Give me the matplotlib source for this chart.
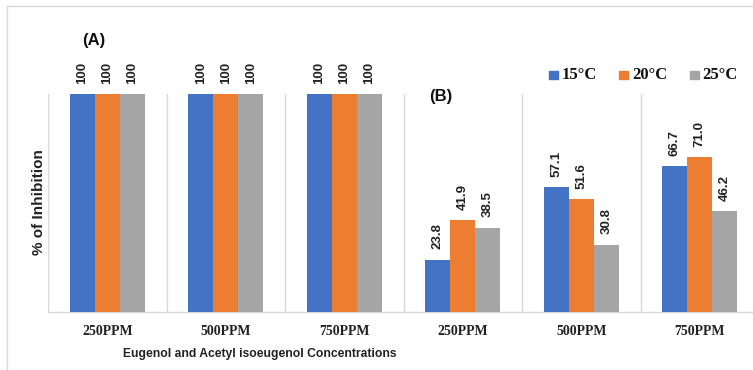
import matplotlib
matplotlib.use("Agg")
import matplotlib.pyplot as plt
from matplotlib.lines import Line2D
from matplotlib import font_manager
import numpy as np

# Concentration groups: first three are eugenol (A), last three acetyl isoeugenol (B)
categories = ["250PPM", "500PPM", "750PPM", "250PPM", "500PPM", "750PPM"]
series_names = ["15°C", "20°C", "25°C"]
inhib_15 = [100, 100, 100, 23.8, 57.1, 66.7]
inhib_20 = [100, 100, 100, 41.9, 51.6, 71.0]
inhib_25 = [100, 100, 100, 38.5, 30.8, 46.2]
label_formats = ["{:.0f}", "{:.0f}", "{:.0f}", "{:.1f}", "{:.1f}", "{:.1f}"]
colors = ["#4472C4", "#ED7D31", "#A5A5A5"]

available = {f.name for f in font_manager.fontManager.ttflist}
sans = "Liberation Sans Narrow" if "Liberation Sans Narrow" in available else "Liberation Sans"

W, H = 753, 370
fig = plt.figure(figsize=(W / 100, H / 100), dpi=100)

def px(x, y):
    return x / W, 1 - y / H

left, right, top, bottom = 48, 759, 94, 311.5
ax = fig.add_axes([left / W, 1 - bottom / H, (right - left) / W, (bottom - top) / H])

x = np.arange(len(categories))
bw = 0.211
for i, (vals, col) in enumerate(zip([inhib_15, inhib_20, inhib_25], colors)):
    pos = x + (i - 1) * bw
    bars = ax.bar(pos, vals, width=bw, color=col, zorder=3, label=series_names[i])
    for b, v, fmt in zip(bars, vals, label_formats):
        ax.annotate(fmt.format(v), (b.get_x() + b.get_width() / 2, v),
                    xytext=(0, 7.5), textcoords="offset points",
                    rotation=90, ha="center", va="bottom",
                    fontsize=9.5, fontweight="bold", family=sans,
                    color="#222222", annotation_clip=False)

ax.set_xlim(-0.5, len(categories) - 0.5)
ax.set_ylim(0, 100)
for s in np.arange(-0.5, len(categories), 1.0):
    ax.axvline(s, color="#D9D9D9", lw=1, zorder=1)
for sp in ["top", "right", "left"]:
    ax.spines[sp].set_visible(False)
ax.spines["bottom"].set_color("#D9D9D9")
ax.spines["bottom"].set_linewidth(1)
ax.set_yticks([])
ax.set_xticks(x)
ax.set_xticklabels(categories, family="Liberation Serif", fontweight="bold",
                   fontsize=10, color="#222222")
ax.tick_params(axis="x", length=0, pad=10)

# Panel tags
fig.text(*px(94, 41), "(A)", ha="center", va="center", fontsize=12,
         fontweight="bold", family=sans, color="#111111")
fig.text(*px(441, 97), "(B)", ha="center", va="center", fontsize=12,
         fontweight="bold", family=sans, color="#111111")

# Axis titles
fig.text(*px(39, 202), "% of Inhibition", rotation=90, ha="center", va="center",
         fontsize=11, fontweight="bold", family=sans, color="#222222")
fig.text(*px(260, 354), "Eugenol and Acetyl isoeugenol Concentrations",
         ha="center", va="center", fontsize=8.7, fontweight="bold",
         family=sans, color="#222222")

# Legend
leg_items = [(549, 562), (619, 632), (690, 702)]
for (sx, tx), col, name in zip(leg_items, colors, series_names):
    fig.patches.append(plt.Rectangle(px(sx, 79), 9 / W, 8 / H, color=col,
                                     transform=fig.transFigure, figure=fig))
    fig.text(*px(tx, 75), name, ha="left", va="center", fontsize=12,
             fontweight="bold", family="Liberation Serif", color="#111111")

# Chart frame
fig.add_artist(Line2D([7 / W, 7 / W], [1 - 6 / H, 0], color="#D9D9D9", lw=1,
                      transform=fig.transFigure))
fig.add_artist(Line2D([7 / W, 1], [1 - 6 / H, 1 - 6 / H], color="#D9D9D9", lw=1,
                      transform=fig.transFigure))

fig.savefig("out.png", dpi=100)
